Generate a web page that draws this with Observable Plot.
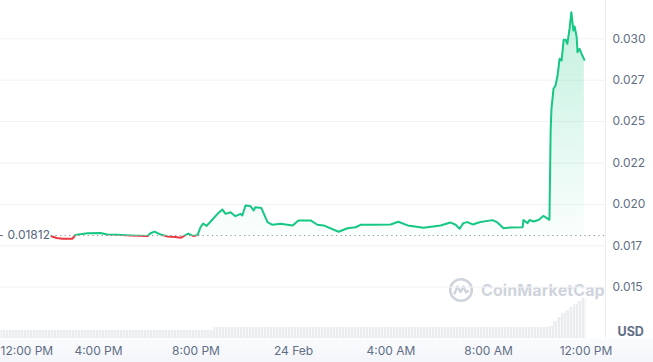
<!DOCTYPE html>
<html><head><meta charset="utf-8">
<script src="https://cdn.jsdelivr.net/npm/d3@7"></script>
<script src="https://cdn.jsdelivr.net/npm/@observablehq/plot@0.6"></script>
<style>
html,body{margin:0;padding:0;background:#fff;}
#wrap{position:relative;width:653px;height:362px;overflow:hidden;font-family:Inter,sans-serif;}
#band{position:absolute;left:0;top:339px;width:653px;height:23px;background:linear-gradient(#fafbfd,#f3f5f9);}
#wm{position:absolute;left:448px;top:277px;display:flex;align-items:center;gap:7px;color:#cfd4dc;font-weight:700;font-size:16px;letter-spacing:0.1px;}
#chart{position:absolute;left:0;top:0;}
</style></head>
<body>
<div id="wrap">
  <div id="band"></div>
  <div id="wm"><svg width="26" height="26" viewBox="0 0 26 26"><circle cx="13" cy="13" r="10.8" fill="none" stroke="#cfd4dc" stroke-width="2.6"/><path d="M6.5 16.5 L9.5 9.5 L12.5 15 L15.5 9.5 L18 15.5 L20 14" fill="none" stroke="#cfd4dc" stroke-width="2.4" stroke-linejoin="round" stroke-linecap="round"/></svg><span>CoinMarketCap</span></div>
  <div id="chart"></div>
</div>
<script>
// ---- data ----
const times = [
 "2024-02-23T14:04Z","2024-02-23T14:17Z","2024-02-23T14:31Z","2024-02-23T14:56Z","2024-02-23T15:03Z",
 "2024-02-23T15:33Z","2024-02-23T16:05Z","2024-02-23T16:22Z","2024-02-23T16:47Z","2024-02-23T17:19Z",
 "2024-02-23T18:01Z","2024-02-23T18:08Z","2024-02-23T18:18Z","2024-02-23T18:33Z","2024-02-23T18:50Z",
 "2024-02-23T19:09Z","2024-02-23T19:22Z","2024-02-23T19:41Z","2024-02-23T19:54Z","2024-02-23T20:04Z",
 "2024-02-23T20:11Z","2024-02-23T20:18Z","2024-02-23T20:26Z","2024-02-23T20:36Z","2024-02-23T20:53Z",
 "2024-02-23T21:05Z","2024-02-23T21:13Z","2024-02-23T21:25Z","2024-02-23T21:37Z","2024-02-23T21:50Z",
 "2024-02-23T21:54Z","2024-02-23T22:02Z","2024-02-23T22:14Z","2024-02-23T22:22Z","2024-02-23T22:26Z",
 "2024-02-23T22:41Z","2024-02-23T22:56Z","2024-02-23T23:08Z","2024-02-23T23:28Z","2024-02-23T23:58Z",
 "2024-02-24T00:12Z","2024-02-24T00:42Z","2024-02-24T00:59Z","2024-02-24T01:14Z","2024-02-24T01:51Z",
 "2024-02-24T02:13Z","2024-02-24T02:33Z","2024-02-24T02:45Z","2024-02-24T03:17Z","2024-02-24T03:59Z",
 "2024-02-24T04:18Z","2024-02-24T04:41Z","2024-02-24T05:20Z","2024-02-24T06:02Z","2024-02-24T06:26Z",
 "2024-02-24T06:39Z","2024-02-24T06:49Z","2024-02-24T06:58Z","2024-02-24T07:08Z","2024-02-24T07:21Z",
 "2024-02-24T07:40Z","2024-02-24T08:10Z","2024-02-24T08:22Z","2024-02-24T08:37Z","2024-02-24T08:54Z",
 "2024-02-24T09:24Z","2024-02-24T09:26Z","2024-02-24T09:36Z","2024-02-24T09:41Z","2024-02-24T09:51Z",
 "2024-02-24T10:03Z","2024-02-24T10:15Z","2024-02-24T10:20Z","2024-02-24T10:30Z","2024-02-24T10:33Z",
 "2024-02-24T10:35Z","2024-02-24T10:40Z","2024-02-24T10:45Z","2024-02-24T10:50Z","2024-02-24T10:55Z",
 "2024-02-24T11:00Z","2024-02-24T11:05Z","2024-02-24T11:10Z","2024-02-24T11:14Z","2024-02-24T11:19Z",
 "2024-02-24T11:24Z","2024-02-24T11:29Z","2024-02-24T11:32Z","2024-02-24T11:37Z","2024-02-24T11:39Z",
 "2024-02-24T11:44Z","2024-02-24T11:51Z","2024-02-24T11:56Z"
];
const prices = [
 0.01808,0.01797,0.01792,0.01793,0.01816,
 0.01826,0.01827,0.01818,0.01816,0.01812,
 0.01809,0.01826,0.01836,0.01818,0.01806,
 0.01803,0.01798,0.01824,0.01809,0.01815,
 0.01862,0.01885,0.01870,0.01897,0.01943,
 0.01969,0.01943,0.01953,0.01929,0.01943,
 0.01933,0.01993,0.01990,0.01963,0.01983,
 0.01978,0.01893,0.01877,0.01883,0.01873,
 0.01903,0.01903,0.01877,0.01873,0.01835,
 0.01856,0.01862,0.01877,0.01877,0.01879,
 0.01895,0.01873,0.01859,0.01873,0.01891,
 0.01877,0.01853,0.01887,0.01893,0.01879,
 0.01894,0.01905,0.01891,0.01856,0.01861,
 0.01862,0.01906,0.01887,0.01906,0.01897,
 0.01906,0.01930,0.01923,0.01907,0.02446,
 0.02577,0.02698,0.02718,0.02778,0.02879,
 0.02869,0.02994,0.02994,0.02970,0.03050,
 0.03161,0.03050,0.03074,0.03010,0.02919,
 0.02940,0.02899,0.02873
];
const baseline = 0.01812;
const yTicks = [0.015, 0.0175, 0.02, 0.0225, 0.025, 0.0275, 0.03];
const yTickLabels = ["0.015","0.017","0.020","0.022","0.025","0.027","0.030"];
const xTickTimes = ["2024-02-23T12:00Z","2024-02-23T16:00Z","2024-02-23T20:00Z","2024-02-24T00:00Z","2024-02-24T04:00Z","2024-02-24T08:00Z","2024-02-24T12:00Z"];
const xTickLabels = ["12:00 PM","4:00 PM","8:00 PM","24 Feb","4:00 AM","8:00 AM","12:00 PM"];
const volTimes = ["2024-02-23T12:00Z","2024-02-23T20:45Z","2024-02-24T10:30Z","2024-02-24T10:40Z","2024-02-24T10:50Z","2024-02-24T11:00Z","2024-02-24T11:10Z","2024-02-24T11:20Z","2024-02-24T11:30Z","2024-02-24T11:40Z","2024-02-24T11:50Z","2024-02-24T12:00Z"];
const volValues = [40, 55, 60, 85, 105, 125, 140, 155, 170, 185, 200, 200];

// ---- build ----
const data = times.map((t, i) => ({t: new Date(t), p: prices[i]}));
const vol = volTimes.map((t, i) => ({t: new Date(t), v: volValues[i]}));
const xt = xTickTimes.map((t, i) => ({t: new Date(t), label: xTickLabels[i]}));
const yt = yTicks.map((v, i) => ({v, label: yTickLabels[i]}));

const W = 653, H = 362, mR = 48, mB = 24;
const xDomain = [new Date("2024-02-23T12:00Z"), new Date("2024-02-24T12:00Z")];
const xRange = [0.5, 585.5];
const yDomain = [0.015, 0.030], yRange = [286.7, 38.3];
const xS = d3.scaleUtc(xDomain, xRange), yS = d3.scaleLinear(yDomain, yRange);
const frameLeft = xS.invert(0), frameRight = xS.invert(W - mR);
const volBase = yS.invert(H - mB);
const volPx = 0.2;
const volTop = v => yS.invert(H - mB - v * volPx);
const basePx = yS(baseline);

const green = "#16c784", red = "#ea3943", txt = "#616e85";

const svg = Plot.plot({
  width: W, height: H,
  marginLeft: 0, marginRight: mR, marginTop: 0, marginBottom: mB,
  x: {type: "utc", domain: xDomain, range: xRange, axis: null},
  y: {domain: yDomain, range: yRange, axis: null},
  style: {fontFamily: "Inter, sans-serif", fontSize: "12px", background: "transparent", color: txt, overflow: "visible"},
  marks: [
    Plot.areaY(vol, {x: "t", y1: () => volBase, y2: d => volTop(d.v), curve: "step-after", fill: "url(#stripes)"}),
    Plot.ruleY(yt, {y: "v", stroke: "#eff2f5", strokeWidth: 1}),
    Plot.ruleX([frameRight], {x: d => d, stroke: "#eaedf1", strokeWidth: 1}),
    Plot.areaY(data, {x: "t", y1: () => baseline, y2: "p", fill: "url(#greenGrad)"}),
    Plot.ruleY([baseline], {y: d => d, x1: () => data[0].t, x2: () => frameRight, stroke: "#8a8f99", strokeWidth: 1, strokeDasharray: "1.2,3.4"}),
    Plot.ruleY([baseline], {y: d => d, x1: () => frameLeft, x2: () => xS.invert(3), stroke: txt, strokeWidth: 1}),
    Plot.line(data, {x: "t", y: "p", stroke: red, strokeWidth: 2, strokeLinejoin: "round"}),
    Plot.line(data, {x: "t", y: "p", stroke: green, strokeWidth: 2, strokeLinejoin: "round"}),
    Plot.text([baseline], {y: d => d, text: d => String(d), frameAnchor: "left", dx: 7, textAnchor: "start", fill: "#58667e", fontSize: 12}),
    Plot.text(yt, {y: "v", text: "label", frameAnchor: "right", dx: 7, textAnchor: "start", fill: txt, fontSize: 12}),
    Plot.text(["USD"], {text: d => d, frameAnchor: "bottom-right", dx: 12, dy: -2.5, textAnchor: "start", fill: "#616e85", fontWeight: 700, fontSize: 12.5}),
    Plot.text(xt.slice(0, 1), {x: "t", text: "label", frameAnchor: "bottom", dy: 16, dx: -0.5, textAnchor: "start", fill: txt, fontSize: 12}),
    Plot.text(xt.slice(1), {x: "t", text: "label", frameAnchor: "bottom", dy: 16, textAnchor: "middle", fill: txt, fontSize: 12})
  ]
});

const ns = "http://www.w3.org/2000/svg";
const defs = document.createElementNS(ns, "defs");
defs.innerHTML = `
  <pattern id="stripes" width="3" height="10" patternUnits="userSpaceOnUse">
    <rect width="3" height="10" fill="#f6f7f9"/><rect width="2" height="10" fill="#eaecf0"/>
  </pattern>
  <linearGradient id="greenGrad" gradientUnits="userSpaceOnUse" x1="0" y1="${yS(0.0316)}" x2="0" y2="${basePx}">
    <stop offset="0" stop-color="${green}" stop-opacity="0.26"/>
    <stop offset="1" stop-color="${green}" stop-opacity="0.02"/>
  </linearGradient>
  <clipPath id="clipAbove"><rect x="0" y="-20" width="${W}" height="${basePx + 20}"/></clipPath>
  <clipPath id="clipBelow"><rect x="0" y="${basePx}" width="${W}" height="${H - basePx}"/></clipPath>`;
svg.insertBefore(defs, svg.firstChild);

const lines = svg.querySelectorAll('g[aria-label="line"]');
if (lines.length >= 2) {
  lines[0].setAttribute("clip-path", "url(#clipBelow)");
  lines[1].setAttribute("clip-path", "url(#clipAbove)");
}
const areas = svg.querySelectorAll('g[aria-label="area"]');
if (areas.length >= 2) areas[1].setAttribute("clip-path", "url(#clipAbove)");

document.getElementById("chart").appendChild(svg);
</script>
</body></html>
